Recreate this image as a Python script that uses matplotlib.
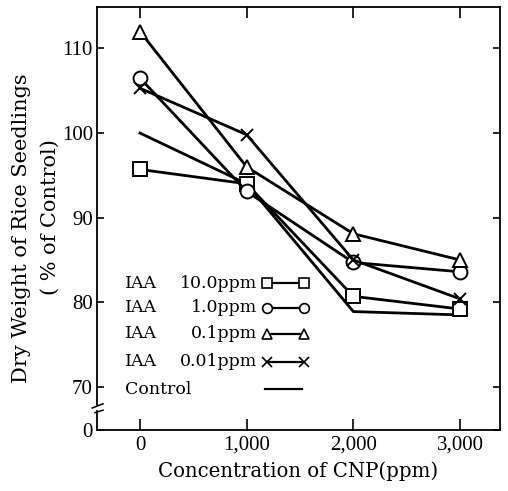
import numpy as np
import matplotlib
matplotlib.use('Agg')
import matplotlib.pyplot as plt

plt.rcParams['font.family'] = 'DejaVu Serif'

conc = [0, 1000, 2000, 3000]
xticklabels = ['0', '1,000', '2,000', '3,000']

iaa_10 = [95.7, 94.0, 80.7, 79.2]
iaa_1 = [106.5, 93.1, 84.7, 83.6]
iaa_01 = [112.0, 96.0, 88.1, 85.0]
iaa_001 = [105.3, 99.8, 85.0, 80.4]
control = [100.0, 94.0, 78.9, 78.5]

series_labels = ['10.0ppm', '1.0ppm', '0.1ppm', '0.01ppm']
series_markers = ['s', 'o', '^', 'x']
yticks = [0, 70, 80, 90, 100, 110]

# broken axis: everything below 70 squeezed into a small band
def fwd(y):
    y = np.asarray(y, dtype=float)
    return np.where(y >= 70, y, 64.9 + y * (5.1 / 70))

def inv(y):
    y = np.asarray(y, dtype=float)
    return np.where(y >= 70, y, (y - 64.9) * (70 / 5.1))

fig = plt.figure(figsize=(5.08, 4.91), dpi=100)
ax = fig.add_axes([97/508, 1-430/491, 403/508, 423/491])
ax.set_yscale('function', functions=(fwd, inv))

for vals, m in zip([iaa_10, iaa_1, iaa_01, iaa_001], series_markers):
    if m == 'x':
        ax.plot(conc, vals, color='black', lw=2.0, marker=m, ms=8, mew=1.4, zorder=3)
    else:
        ax.plot(conc, vals, color='black', lw=2.0, marker=m, ms=10, mew=1.4,
                mfc='white', mec='black', zorder=3)
ax.plot(conc, control, color='black', lw=2.0, zorder=2)

ax.set_xlim(-403, 3375)
ax.set_ylim(0, 114.9)
ax.set_xticks(conc)
ax.set_xticklabels(xticklabels)
ax.set_yticks(yticks)
ax.set_yticklabels([str(v) for v in yticks])
tick_font = {'family': 'Liberation Serif', 'size': 15}
for lab in ax.get_xticklabels() + ax.get_yticklabels():
    lab.set_fontfamily('Liberation Serif')
    lab.set_fontsize(15)
ax.tick_params(direction='in', width=1.2, top=True, right=True, pad=4, colors='black')
ax.tick_params(axis='x', length=8)
ax.tick_params(axis='y', length=5, pad=3)
for s in ax.spines.values():
    s.set_linewidth(1.3)

# break on the left spine
ax.spines['left'].set_visible(False)
tr = ax.transAxes
ax.plot([0, 0], [0.059, 1], color='black', lw=1.3, transform=tr, clip_on=False)
ax.plot([0, 0], [0, 0.045], color='black', lw=1.3, transform=tr, clip_on=False)
ax.plot([-0.012, 0.015], [0.052, 0.062], color='black', lw=1.1, transform=tr, clip_on=False)
ax.plot([-0.005, 0.015], [0.041, 0.047], color='black', lw=1.1, transform=tr, clip_on=False)

ax.set_xlabel('Concentration of CNP(ppm)', fontsize=14.2, labelpad=5)

# legend drawn by hand in pixel-like axes coordinates
rows_px = [283, 308, 334, 362]
def ax_xy(px, py):
    return ((px - 97) / 403, (430 - py) / 423)

for lab, m, py in zip(series_labels, series_markers, rows_px):
    x0, y0 = ax_xy(125, py)
    ax.text(x0, y0, 'IAA', transform=tr, fontsize=12.5, va='center', ha='left')
    x1, _ = ax_xy(257, py)
    ax.text(x1, y0, lab, transform=tr, fontsize=12.5, va='center', ha='right')
    xa, _ = ax_xy(267, py)
    xb, _ = ax_xy(304, py)
    if m == 'x':
        ax.plot([xa, xb], [y0, y0], color='black', lw=1.6, marker=m, ms=7, mew=1.2,
                transform=tr)
    else:
        ax.plot([xa, xb], [y0, y0], color='black', lw=1.6, marker=m, ms=7, mew=1.2,
                mfc='white', mec='black', transform=tr)
x0, y0 = ax_xy(125, 389)
ax.text(x0, y0, 'Control', transform=tr, fontsize=12.5, va='center', ha='left')
xa, _ = ax_xy(265, 389)
xb, _ = ax_xy(302, 389)
ax.plot([xa, xb], [y0, y0], color='black', lw=1.6, transform=tr)

fig.text(22/508, 1-228/491, 'Dry Weight of Rice Seedlings', rotation=90,
         ha='center', va='center', fontsize=15)
fig.text(50/508, 1-217/491, '( % of Control)', rotation=90,
         ha='center', va='center', fontsize=15)

fig.savefig('out.png', dpi=100)
